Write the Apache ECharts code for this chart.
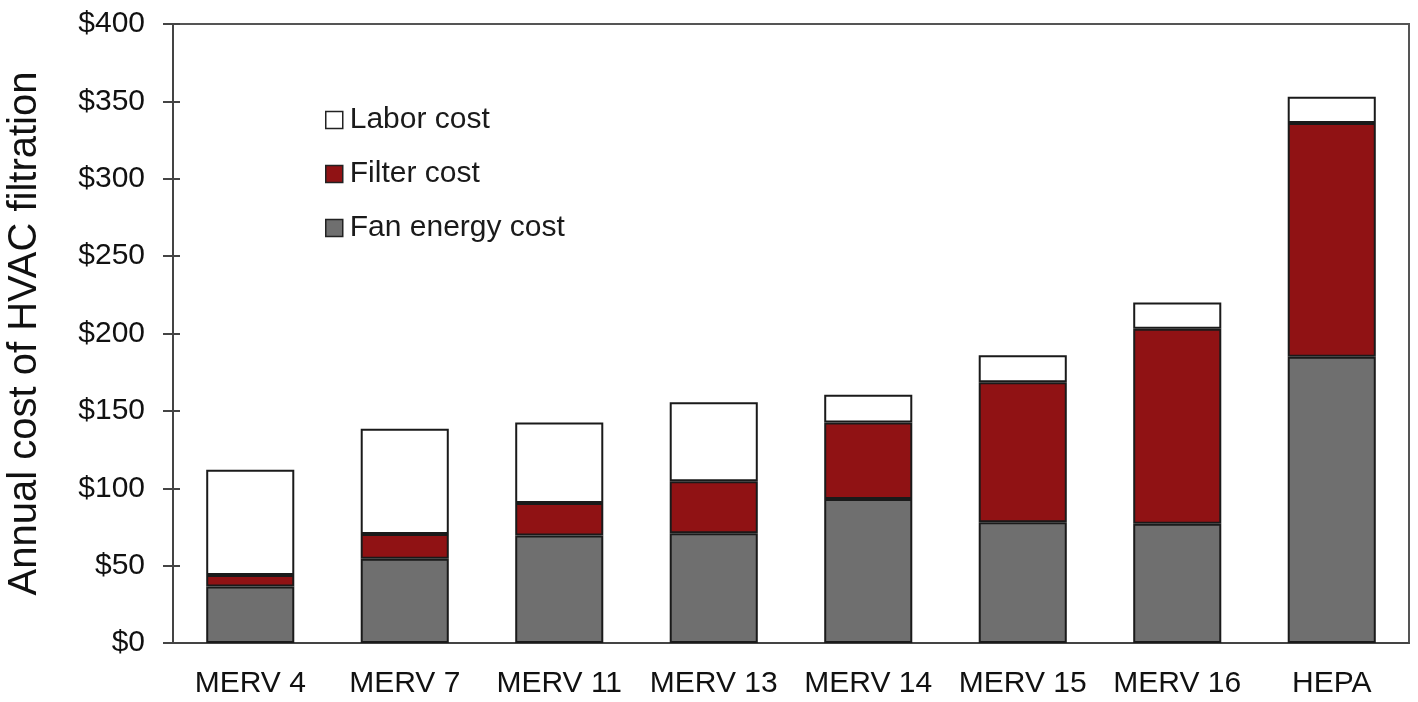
<!DOCTYPE html>
<html>
<head>
<meta charset="utf-8">
<script src="https://cdn.jsdelivr.net/npm/echarts@6/dist/echarts.min.js"></script>
<style>
html,body{margin:0;padding:0;background:#fff;}
#chart{width:1418px;height:702px;}
</style>
</head>
<body>
<div id="chart"></div>
<script>
var categories = ['MERV 4','MERV 7','MERV 11','MERV 13','MERV 14','MERV 15','MERV 16','HEPA'];
var fanEnergyCost = [36.5, 54.5, 69.5, 71, 93, 78, 77, 185];
var filterCost = [7.5, 16, 21, 33.5, 49.5, 90.5, 126, 151];
var laborCost = [68, 68, 52, 51, 18, 17.5, 17, 17];
var yTicks = {min: 0, max: 400, interval: 50};
var seriesNames = ['Fan energy cost', 'Filter cost', 'Labor cost'];

var FONT = '"Liberation Sans", Arial, sans-serif';
var chart = echarts.init(document.getElementById('chart'));

function barSeries(name, data, color) {
  return {
    name: name,
    type: 'bar',
    stack: 'total',
    data: data,
    barWidth: '57%',
    xAxisIndex: 0,
    yAxisIndex: 0,
    itemStyle: {color: color, borderColor: '#1a1a1a', borderWidth: 2},
    emphasis: {disabled: true}
  };
}

chart.setOption({
  backgroundColor: '#ffffff',
  animation: false,
  grid: [{
    left: 173, right: 9, top: 24, bottom: 59, outerBoundsMode: 'none',
    show: true, borderColor: '#555', borderWidth: 2, backgroundColor: 'transparent'
  }, {
    left: 173, width: 7, top: 24, bottom: 59, outerBoundsMode: 'none', show: false
  }],
  legend: {
    data: [seriesNames[2], seriesNames[1], seriesNames[0]],
    orient: 'vertical',
    left: 320, top: 100,
    itemWidth: 17, itemHeight: 17, itemGap: 24,
    icon: 'rect',
    itemStyle: {borderWidth: 1.5, borderColor: '#222'},
    textStyle: {fontFamily: FONT, fontSize: 30, color: '#1a1a1a', padding: [0, 0, 0, 2]},
    selectedMode: false
  },
  xAxis: [{
    type: 'category',
    gridIndex: 0,
    data: categories,
    axisTick: {show: false},
    axisLine: {lineStyle: {color: '#444', width: 2}},
    axisLabel: {fontFamily: FONT, fontSize: 30, color: '#111', margin: 26, interval: 0}
  }, {
    type: 'value',
    gridIndex: 1,
    min: 0, max: 1,
    axisLine: {show: false},
    axisTick: {show: false},
    axisLabel: {show: false},
    splitLine: {show: false}
  }],
  yAxis: [{
    type: 'value',
    gridIndex: 0,
    min: yTicks.min, max: yTicks.max, interval: yTicks.interval,
    name: 'Annual cost of HVAC filtration',
    nameLocation: 'middle',
    nameGap: 128,
    nameTextStyle: {fontFamily: FONT, fontSize: 40, color: '#111'},
    axisLine: {show: true, lineStyle: {color: '#444', width: 2}},
    axisTick: {show: true, inside: false, length: 10, lineStyle: {color: '#444', width: 2}},
    axisLabel: {fontFamily: FONT, fontSize: 30, color: '#111', margin: 28,
      formatter: function (v) { return '$' + v; }},
    splitLine: {show: false}
  }, {
    type: 'value',
    gridIndex: 1,
    min: yTicks.min, max: yTicks.max, interval: yTicks.interval,
    axisLine: {show: false},
    axisTick: {show: false},
    axisLabel: {show: false},
    splitLine: {show: true, lineStyle: {color: '#444', width: 2}}
  }],
  series: [
    barSeries(seriesNames[0], fanEnergyCost, '#6f6f6f'),
    barSeries(seriesNames[1], filterCost, '#901214'),
    barSeries(seriesNames[2], laborCost, '#ffffff'),
    {type: 'scatter', xAxisIndex: 1, yAxisIndex: 1, symbolSize: 0, silent: true,
     data: [[0, yTicks.min], [0, yTicks.max]]}
  ]
});
</script>
</body>
</html>
